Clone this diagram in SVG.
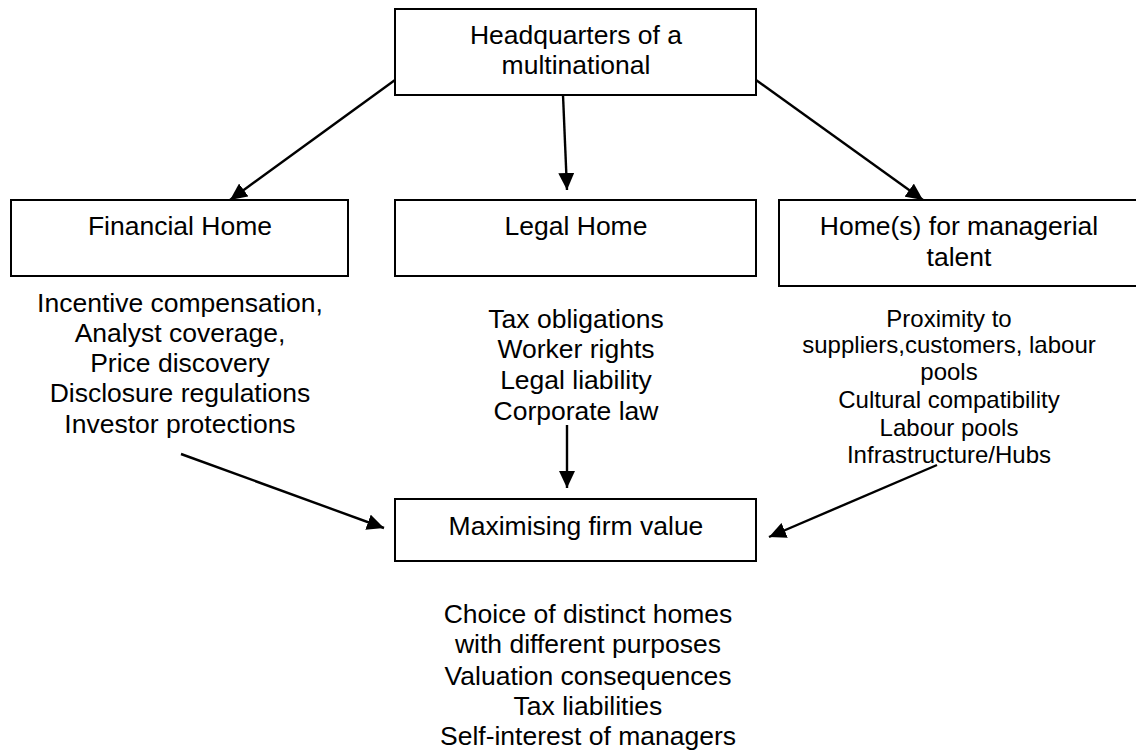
<svg xmlns="http://www.w3.org/2000/svg" width="1136" height="752" viewBox="0 0 1136 752">
<style>
.box{fill:#fff;stroke:#000;stroke-width:2}
.t{font-family:"Liberation Sans",Arial,sans-serif;font-size:26.5px;fill:#000;text-anchor:middle}
.s{font-family:"Liberation Sans",Arial,sans-serif;font-size:24px;fill:#000;text-anchor:middle}
.c{stroke:#000;stroke-width:2.4;fill:none;marker-end:url(#ah)}
</style>
<defs>
<marker id="ah" markerUnits="userSpaceOnUse" markerWidth="18" markerHeight="16" refX="17" refY="8" orient="auto">
<path d="M0,0 L17,8 L0,16 Z" fill="#000"/>
</marker>
</defs>
<rect width="1136" height="752" fill="#fff"/>
<g id="hq">
<rect class="box" x="395" y="9" width="361" height="86"/>
<text class="t" x="576" y="44">Headquarters of a</text>
<text class="t" x="576" y="74">multinational</text>
</g>
<g id="financial">
<rect class="box" x="11" y="200" width="337" height="76"/>
<text class="t" x="180" y="235">Financial Home</text>
</g>
<g id="legal">
<rect class="box" x="395" y="200" width="361" height="76"/>
<text class="t" x="576" y="235">Legal Home</text>
</g>
<g id="managerial">
<rect class="box" x="779" y="200" width="370" height="86"/>
<text class="t" x="959" y="235">Home(s) for managerial</text>
<text class="t" x="959" y="266">talent</text>
</g>
<g id="financial-factors">
<text class="t" x="180" y="312">Incentive compensation,</text>
<text class="t" x="180" y="342">Analyst coverage,</text>
<text class="t" x="180" y="372">Price discovery</text>
<text class="t" x="180" y="402">Disclosure regulations</text>
<text class="t" x="180" y="433">Investor protections</text>
</g>
<g id="legal-factors">
<text class="t" x="576" y="328">Tax obligations</text>
<text class="t" x="576" y="358">Worker rights</text>
<text class="t" x="576" y="389">Legal liability</text>
<text class="t" x="576" y="420">Corporate law</text>
</g>
<g id="managerial-factors">
<text class="s" x="949" y="327">Proximity to</text>
<text class="s" x="949" y="353">suppliers,customers, labour</text>
<text class="s" x="949" y="380">pools</text>
<text class="s" x="949" y="408">Cultural compatibility</text>
<text class="s" x="949" y="436">Labour pools</text>
<text class="s" x="949" y="463">Infrastructure/Hubs</text>
</g>
<g id="maximising">
<rect class="box" x="395" y="499" width="361" height="62"/>
<text class="t" x="576" y="535">Maximising firm value</text>
</g>
<g id="summary">
<text class="t" x="588" y="623">Choice of distinct homes</text>
<text class="t" x="588" y="653">with different purposes</text>
<text class="t" x="588" y="685">Valuation consequences</text>
<text class="t" x="588" y="715">Tax liabilities</text>
<text class="t" x="588" y="745">Self-interest of managers</text>
</g>
<g id="connectors">
<line class="c" x1="395" y1="80" x2="230" y2="200"/>
<line class="c" x1="563" y1="95" x2="567" y2="190"/>
<line class="c" x1="756" y1="80" x2="923" y2="200"/>
<line class="c" x1="181" y1="454" x2="384" y2="528"/>
<line class="c" x1="567" y1="425" x2="567" y2="488"/>
<line class="c" x1="937" y1="465" x2="769" y2="537"/>
</g>
</svg>
